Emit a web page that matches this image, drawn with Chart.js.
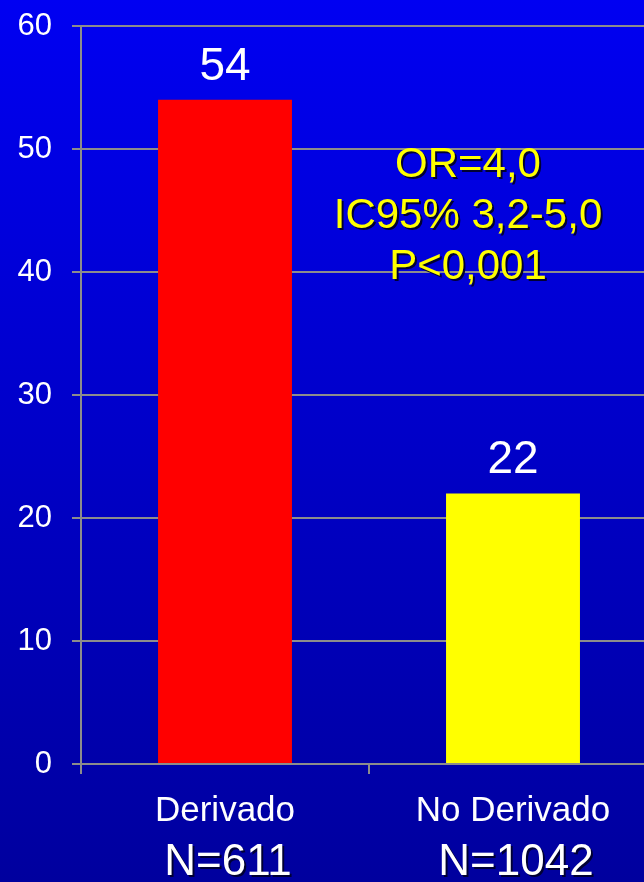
<!DOCTYPE html>
<html>
<head>
<meta charset="utf-8">
<script src="https://cdn.jsdelivr.net/npm/chart.js@4"></script>
<style>
  html, body { margin: 0; padding: 0; overflow: hidden; background: #0000a0; }
  #wrap { width: 660px; height: 882px; }
</style>
</head>
<body>
<div id="wrap"><canvas id="chart"></canvas></div>
<script>
const categories = ['Derivado', 'No Derivado'];
const nLabels = ['N=611', 'N=1042'];
const values = [54, 22];
const barColors = ['#ff0000', '#ffff00'];
const yTicks = [0, 10, 20, 30, 40, 50, 60];
const statsLines = ['OR=4,0', 'IC95% 3,2-5,0', 'P<0,001'];

const FONT = '"Liberation Sans", Arial, sans-serif';

const background = {
    id: 'background',
    beforeDraw(chart) {
        const ctx = chart.ctx;
        const g = ctx.createLinearGradient(0, 0, 0, chart.height);
        g.addColorStop(0, '#0000f2');
        g.addColorStop(1, '#00009e');
        ctx.save();
        ctx.fillStyle = g;
        ctx.fillRect(0, 0, chart.width, chart.height);
        ctx.restore();
    }
};

const extraText = {
    id: 'extraText',
    afterDraw(chart) {
        const ctx = chart.ctx;
        const meta = chart.getDatasetMeta(0);
        const x = chart.scales.x;
        ctx.save();
        ctx.textAlign = 'center';
        ctx.textBaseline = 'alphabetic';

        // values above bars
        ctx.font = '46px ' + FONT;
        ctx.fillStyle = '#ffffff';
        meta.data.forEach((bar, i) => {
            ctx.fillText(String(values[i]), bar.x, bar.y - 20);
        });

        // N= lines under the category names
        ctx.font = '44px ' + FONT;
        nLabels.forEach((t, i) => {
            const cx = x.getPixelForValue(i) + 3;
            ctx.fillStyle = '#000033';
            ctx.fillText(t, cx + 2, 877);
            ctx.fillStyle = '#ffffff';
            ctx.fillText(t, cx, 875);
        });

        // statistics box
        ctx.font = '42px ' + FONT;
        const sx = 468;
        statsLines.forEach((t, i) => {
            const by = 177 + i * 51;
            ctx.fillStyle = '#000033';
            ctx.fillText(t, sx + 2, by + 2);
            ctx.fillStyle = '#ffff00';
            ctx.fillText(t, sx, by);
        });
        ctx.restore();
    }
};

new Chart(document.getElementById('chart'), {
    type: 'bar',
    data: {
        labels: categories,
        datasets: [{
            data: values,
            backgroundColor: barColors,
            borderWidth: 0,
            categoryPercentage: 1,
            barPercentage: 0.465
        }]
    },
    options: {
        responsive: true,
        maintainAspectRatio: false,
        animation: false,
        layout: { padding: { top: 26, right: 3, left: 0, bottom: 0 } },
        plugins: {
            legend: { display: false },
            tooltip: { enabled: false }
        },
        scales: {
            y: {
                min: 0,
                max: 60,
                afterBuildTicks(scale) {
                    scale.ticks = yTicks.map(v => ({ value: v }));
                },
                afterFit(scale) {
                    scale.width = 81;
                    scale.paddingTop = 0;
                    scale.paddingBottom = 0;
                },
                grid: { color: '#8c8c8c', lineWidth: 2, tickLength: 9 },
                border: { color: '#8c8c8c', width: 2 },
                ticks: {
                    color: '#ffffff',
                    padding: 20,
                    font: { family: FONT, size: 31 }
                }
            },
            x: {
                afterFit(scale) {
                    scale.height = 118;
                    scale.paddingLeft = 0;
                    scale.paddingRight = 0;
                },
                grid: {
                    offset: true,
                    drawOnChartArea: false,
                    color: '#8c8c8c',
                    lineWidth: 2,
                    tickLength: 10
                },
                border: { color: '#8c8c8c', width: 2 },
                ticks: {
                    color: '#ffffff',
                    padding: 16,
                    font: { family: FONT, size: 35 }
                }
            }
        }
    },
    plugins: [background, extraText]
});
</script>
</body>
</html>
